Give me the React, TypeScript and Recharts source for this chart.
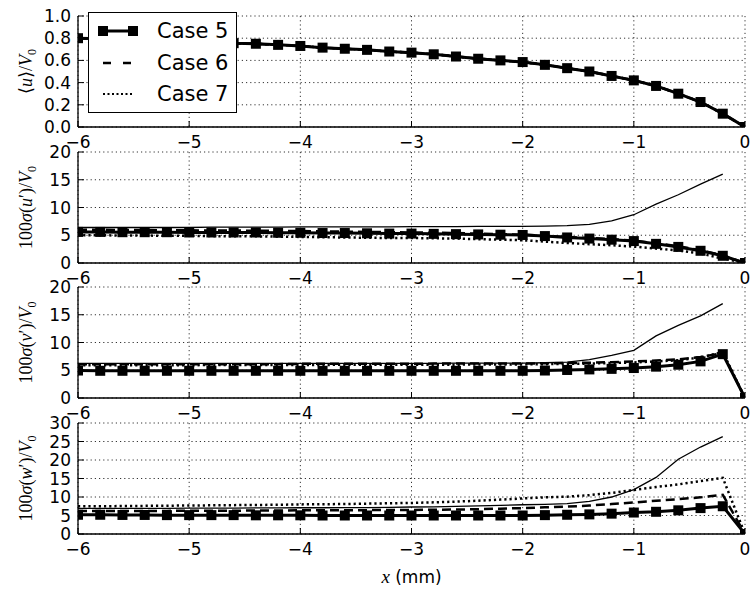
import React from 'react';
import { LineChart, Line, XAxis, YAxis, CartesianGrid, Legend } from 'recharts';

// x positions (mm)
const X_MM = [-6, -5.8, -5.6, -5.4, -5.2, -5, -4.8, -4.6, -4.4, -4.2, -4, -3.8, -3.6, -3.4, -3.2, -3, -2.8, -2.6, -2.4, -2.2, -2, -1.8, -1.6, -1.4, -1.2, -1, -0.8, -0.6, -0.4, -0.2, 0];
const X_TICKS = [-6, -5, -4, -3, -2, -1, 0];

// Panel 1: <u>/V0
const U_C5 = [0.8, 0.795, 0.79, 0.785, 0.78, 0.77, 0.765, 0.755, 0.75, 0.74, 0.73, 0.715, 0.705, 0.695, 0.68, 0.67, 0.655, 0.635, 0.615, 0.6, 0.585, 0.56, 0.53, 0.5, 0.46, 0.42, 0.37, 0.3, 0.225, 0.12, 0];
const U_C6 = [0.8, 0.795, 0.79, 0.785, 0.78, 0.77, 0.765, 0.755, 0.75, 0.74, 0.73, 0.715, 0.705, 0.695, 0.68, 0.67, 0.655, 0.635, 0.615, 0.6, 0.585, 0.56, 0.53, 0.5, 0.46, 0.42, 0.37, 0.3, 0.225, 0.12, 0];
const U_C7 = [0.8, 0.795, 0.79, 0.785, 0.78, 0.77, 0.765, 0.755, 0.75, 0.74, 0.73, 0.715, 0.705, 0.695, 0.68, 0.67, 0.655, 0.635, 0.615, 0.6, 0.585, 0.56, 0.53, 0.5, 0.46, 0.42, 0.37, 0.3, 0.225, 0.12, 0];
const U_TICKS = [0, 0.2, 0.4, 0.6, 0.8, 1.0];

// Panel 2: 100 sigma(u')/V0
const SU_C5 = [5.6, 5.6, 5.55, 5.55, 5.55, 5.5, 5.5, 5.5, 5.5, 5.45, 5.45, 5.4, 5.4, 5.35, 5.3, 5.3, 5.25, 5.2, 5.15, 5.1, 5.05, 4.85, 4.6, 4.4, 4.2, 3.95, 3.45, 2.9, 2.2, 1.3, 0];
const SU_C6 = [6.0, 6.0, 5.95, 5.95, 5.9, 5.9, 5.85, 5.85, 5.8, 5.8, 5.75, 5.7, 5.65, 5.6, 5.55, 5.5, 5.45, 5.4, 5.3, 5.2, 5.1, 4.9, 4.7, 4.5, 4.3, 4.05, 3.55, 3.0, 2.3, 1.4, 0];
const SU_C7 = [5.0, 5.0, 4.95, 4.95, 4.9, 4.9, 4.85, 4.8, 4.8, 4.75, 4.7, 4.65, 4.6, 4.55, 4.5, 4.5, 4.45, 4.4, 4.3, 4.2, 4.1, 3.85, 3.6, 3.4, 3.2, 2.95, 2.6, 2.25, 1.7, 0.8, 0];
const SU_REF = [6.4, 6.4, 6.4, 6.4, 6.4, 6.4, 6.45, 6.45, 6.45, 6.45, 6.5, 6.5, 6.5, 6.5, 6.5, 6.55, 6.55, 6.55, 6.6, 6.6, 6.6, 6.65, 6.75, 6.95, 7.6, 8.7, 10.6, 12.3, 14.2, 16.0, null];

// Panel 3: 100 sigma(v')/V0
const SV_C5 = [4.95, 4.9, 4.9, 4.9, 4.9, 4.9, 4.9, 4.9, 4.9, 4.9, 4.9, 4.9, 4.9, 4.9, 4.9, 4.9, 4.9, 4.9, 4.9, 4.9, 4.9, 4.95, 5.05, 5.15, 5.25, 5.4, 5.65, 6.0, 6.6, 7.9, 0];
const SV_C6 = [6.1, 6.1, 6.1, 6.1, 6.1, 6.1, 6.1, 6.1, 6.1, 6.1, 6.15, 6.15, 6.15, 6.15, 6.15, 6.15, 6.2, 6.2, 6.2, 6.2, 6.2, 6.25, 6.3, 6.35, 6.45, 6.6, 6.75, 6.95, 7.4, 8.1, 0];
const SV_C7 = [5.9, 5.9, 5.9, 5.9, 5.9, 5.9, 5.95, 5.95, 5.95, 5.95, 5.95, 5.95, 6.0, 6.0, 6.0, 6.0, 6.0, 6.0, 6.05, 6.05, 6.05, 6.1, 6.15, 6.2, 6.3, 6.4, 6.6, 6.8, 7.3, 8.3, 0];
const SV_REF = [6.25, 6.25, 6.25, 6.25, 6.25, 6.25, 6.25, 6.25, 6.25, 6.25, 6.25, 6.25, 6.25, 6.25, 6.25, 6.25, 6.25, 6.3, 6.3, 6.3, 6.3, 6.35, 6.45, 6.9, 7.7, 8.6, 11.2, 13.1, 14.8, 17.0, null];

// Panel 4: 100 sigma(w')/V0
const SW_C5 = [5.2, 5.2, 5.15, 5.15, 5.1, 5.1, 5.1, 5.1, 5.05, 5.05, 5.05, 5.0, 5.0, 5.0, 5.0, 5.0, 5.0, 5.0, 5.0, 5.0, 5.0, 5.1, 5.2, 5.3, 5.5, 5.8, 6.0, 6.4, 7.0, 7.5, 0];
const SW_C6 = [6.2, 6.2, 6.2, 6.25, 6.25, 6.3, 6.3, 6.3, 6.35, 6.35, 6.4, 6.4, 6.45, 6.45, 6.5, 6.5, 6.55, 6.6, 6.7, 6.85, 7.0, 7.2, 7.4, 7.7, 8.1, 8.5, 9.0, 9.4, 9.9, 10.6, 0];
const SW_C7 = [7.5, 7.5, 7.55, 7.6, 7.65, 7.7, 7.75, 7.8, 7.85, 7.9, 8.0, 8.05, 8.1, 8.2, 8.3, 8.4, 8.55, 8.75, 9.0, 9.3, 9.6, 9.9, 10.1, 10.5, 11.1, 11.9, 12.7, 13.4, 14.3, 15.2, 0];
const SW_REF = [6.9, 6.9, 6.9, 6.95, 6.95, 7.0, 7.0, 7.0, 7.05, 7.05, 7.1, 7.1, 7.15, 7.15, 7.2, 7.3, 7.35, 7.45, 7.6, 7.75, 7.9, 8.0, 8.2, 8.8, 10.0, 12.0, 15.3, 20.2, 23.5, 26.3, null];

const S_TICKS_20 = [0, 5, 10, 15, 20];
const S_TICKS_30 = [0, 5, 10, 15, 20, 25, 30];

const LEGEND_NAMES = ['Case 5', 'Case 6', 'Case 7'];

const buildRows = (c5: number[], c6: number[], c7: number[], ref: (number | null)[] | null) =>
  X_MM.map((x, i) => ({ x, c5: c5[i], c6: c6[i], c7: c7[i], ref: ref ? ref[i] : null }));

const SANS = '"DejaVu Sans", "Bitstream Vera Sans", sans-serif';
const SERIF = '"Liberation Serif", "DejaVu Serif", serif';
const TL = 6; // inward tick length
const MT = 10;
const PLOT_H = 111;

const fmtX = (v: number) => (v < 0 ? `\u2212${Math.abs(v)}` : `${v}`);

const XTickBottom = (p: any) => {
  const { x, y, payload } = p;
  return (
    <g>
      <line x1={x} y1={y} x2={x} y2={y - TL} stroke="#000" strokeWidth={1} />
      <text x={x} y={y + 21} textAnchor="middle" fontFamily={SANS} fontSize={17} fill="#000">
        {fmtX(payload.value)}
      </text>
    </g>
  );
};
const XTickTop = (p: any) => {
  const { x, y } = p;
  return <line x1={x} y1={y} x2={x} y2={y + TL} stroke="#000" strokeWidth={1} />;
};
const makeYTickLeft = (fmt: (v: number) => string) => (p: any) => {
  const { x, y, payload } = p;
  return (
    <g>
      <line x1={x} y1={y} x2={x + TL} y2={y} stroke="#000" strokeWidth={1} />
      <text x={x - 7} y={y + 6} textAnchor="end" fontFamily={SANS} fontSize={17} fill="#000">
        {fmt(payload.value)}
      </text>
    </g>
  );
};
const YTickRight = (p: any) => {
  const { x, y } = p;
  return <line x1={x} y1={y} x2={x - TL} y2={y} stroke="#000" strokeWidth={1} />;
};

const squareDot = (p: any) => {
  const { cx, cy, index } = p;
  if (cx == null || cy == null) return <g key={`d-${index}`} />;
  return <rect key={`d-${index}`} x={cx - 5} y={cy - 5} width={10} height={10} fill="#000" />;
};

const LegendBox = () => (
  <div
    style={{
      position: 'relative',
      width: 149,
      height: 101,
      background: '#fff',
      border: '1.3px solid #000',
      boxSizing: 'border-box',
    }}
  >
    {LEGEND_NAMES.map((name, i) => {
      const cy = [18, 50, 81][i];
      return (
        <div key={name} style={{ position: 'absolute', left: 0, top: cy - 14, height: 28, width: 149 }}>
          <svg width={60} height={28} style={{ position: 'absolute', left: 0, top: 0 }}>
            {i === 0 && (
              <g>
                <line x1={14} y1={14} x2={44} y2={14} stroke="#000" strokeWidth={3} />
                <rect x={9} y={9} width={10} height={10} fill="#000" />
                <rect x={39} y={9} width={10} height={10} fill="#000" />
              </g>
            )}
            {i === 1 && <line x1={14} y1={14} x2={44} y2={14} stroke="#000" strokeWidth={2.5} strokeDasharray="8 12" />}
            {i === 2 && <line x1={14} y1={14} x2={45} y2={14} stroke="#000" strokeWidth={2.2} strokeDasharray="2 2.5" />}
          </svg>
          <span
            style={{
              position: 'absolute',
              left: 68,
              top: 0,
              lineHeight: '28px',
              fontFamily: SANS,
              fontSize: 21,
              color: '#000',
              whiteSpace: 'nowrap',
            }}
          >
            {name}
          </span>
        </div>
      );
    })}
  </div>
);

const MeanLabel = (letter: string) => (
  <>
    <tspan>{'\u27E8'}</tspan>
    <tspan fontStyle="italic">{letter}</tspan>
    <tspan>{'\u27E9/'}</tspan>
    <tspan fontStyle="italic">V</tspan>
    <tspan fontSize="12" dy="4">0</tspan>
  </>
);
const SigmaLabel = (letter: string) => (
  <>
    <tspan>100</tspan>
    <tspan fontStyle="italic">{'\u03C3'}</tspan>
    <tspan>(</tspan>
    <tspan fontStyle="italic">{letter}</tspan>
    <tspan>{'\u2032)/'}</tspan>
    <tspan fontStyle="italic">V</tspan>
    <tspan fontSize="12" dy="4">0</tspan>
  </>
);

type PanelProps = {
  top: number;
  data: any[];
  domain: [number, number];
  yTicks: number[];
  fmt: (v: number) => string;
  labelKind: 'mean' | 'sigma';
  letter: string;
  legend?: boolean;
  xLabel?: boolean;
  showRef: boolean;
};

function Panel({ top, data, domain, yTicks, fmt, labelKind, letter, legend, xLabel, showRef }: PanelProps) {
  const axisH = xLabel ? 56 : 30;
  const height = MT + PLOT_H + axisH;
  const yLabelContent = (props: any) => {
    const vb = props.viewBox || {};
    const cx = (vb.x || 0) + 32;
    const cy = (vb.y || 0) + (vb.height || 0) / 2;
    return (
      <text
        x={cx}
        y={cy}
        transform={`rotate(-90, ${cx}, ${cy})`}
        textAnchor="middle"
        fontFamily={SERIF}
        fontSize={18}
        fill="#000"
      >
        {labelKind === 'mean' ? MeanLabel(letter) : SigmaLabel(letter)}
      </text>
    );
  };
  const xLabelContent = (props: any) => {
    const vb = props.viewBox || {};
    const cx = (vb.x || 0) + (vb.width || 0) / 2;
    const cy = (vb.y || 0) + 49;
    return (
      <text x={cx} y={cy} textAnchor="middle" fontFamily={SANS} fontSize={17} fill="#000">
        <tspan fontFamily={SERIF} fontStyle="italic" fontSize={19}>x</tspan>
        <tspan> (mm)</tspan>
      </text>
    );
  };
  return (
    <div style={{ position: 'absolute', left: 0, top }}>
      <LineChart width={750} height={height} data={data} margin={{ top: MT, right: 5, bottom: 0, left: 0 }}>
        <CartesianGrid stroke="#000" strokeWidth={0.8} strokeDasharray="1.2 3" />
        <XAxis
          dataKey="x"
          type="number"
          domain={[-6, 0]}
          ticks={X_TICKS}
          interval={0}
          allowDataOverflow
          height={axisH}
          tickSize={0}
          tickMargin={0}
          tickLine={false}
          axisLine={{ stroke: '#000', strokeWidth: 1.3 }}
          tick={XTickBottom}
          label={xLabel ? { content: xLabelContent } : undefined}
        />
        <XAxis
          xAxisId="top"
          orientation="top"
          dataKey="x"
          type="number"
          domain={[-6, 0]}
          ticks={X_TICKS}
          interval={0}
          height={0}
          tickSize={0}
          tickMargin={0}
          tickLine={false}
          axisLine={{ stroke: '#000', strokeWidth: 1.3 }}
          tick={XTickTop}
        />
        <YAxis
          type="number"
          domain={domain}
          ticks={yTicks}
          interval={0}
          allowDataOverflow
          width={78}
          tickSize={0}
          tickMargin={0}
          tickLine={false}
          axisLine={{ stroke: '#000', strokeWidth: 1.3 }}
          tick={makeYTickLeft(fmt)}
          label={{ content: yLabelContent }}
        />
        <YAxis
          yAxisId="right"
          orientation="right"
          type="number"
          domain={domain}
          ticks={yTicks}
          interval={0}
          width={0}
          tickSize={0}
          tickMargin={0}
          tickLine={false}
          axisLine={{ stroke: '#000', strokeWidth: 1.3 }}
          tick={YTickRight}
        />
        {showRef && (
          <Line dataKey="ref" type="linear" stroke="#000" strokeWidth={1.3} dot={false} isAnimationActive={false} connectNulls={false} legendType="none" />
        )}
        <Line dataKey="c5" name="Case 5" type="linear" stroke="#000" strokeWidth={3} dot={squareDot} activeDot={false} isAnimationActive={false} />
        <Line dataKey="c6" name="Case 6" type="linear" stroke="#000" strokeWidth={2.5} strokeDasharray="9 5" dot={false} isAnimationActive={false} />
        <Line dataKey="c7" name="Case 7" type="linear" stroke="#000" strokeWidth={2.5} strokeDasharray="2.2 3" dot={false} isAnimationActive={false} />
        {legend && (
          <Legend
            layout="horizontal"
            verticalAlign="middle"
            align="center"
            content={LegendBox}
            wrapperStyle={{ left: 88, top: 6, width: 149, height: 101 }}
          />
        )}
      </LineChart>
    </div>
  );
}

export default function App() {
  const f1 = (v: number) => v.toFixed(1);
  const f0 = (v: number) => `${v}`;
  return (
    <div style={{ position: 'absolute', left: 0, top: 0, width: 750, height: 590, background: '#fff', overflow: 'hidden' }}>
      <Panel top={6} data={buildRows(U_C5, U_C6, U_C7, null)} domain={[0, 1]} yTicks={U_TICKS} fmt={f1} labelKind="mean" letter="u" legend showRef={false} />
      <Panel top={142} data={buildRows(SU_C5, SU_C6, SU_C7, SU_REF)} domain={[0, 20]} yTicks={S_TICKS_20} fmt={f0} labelKind="sigma" letter="u" showRef />
      <Panel top={277} data={buildRows(SV_C5, SV_C6, SV_C7, SV_REF)} domain={[0, 20]} yTicks={S_TICKS_20} fmt={f0} labelKind="sigma" letter="v" showRef />
      <Panel top={413} data={buildRows(SW_C5, SW_C6, SW_C7, SW_REF)} domain={[0, 30]} yTicks={S_TICKS_30} fmt={f0} labelKind="sigma" letter="w" xLabel showRef />
    </div>
  );
}
